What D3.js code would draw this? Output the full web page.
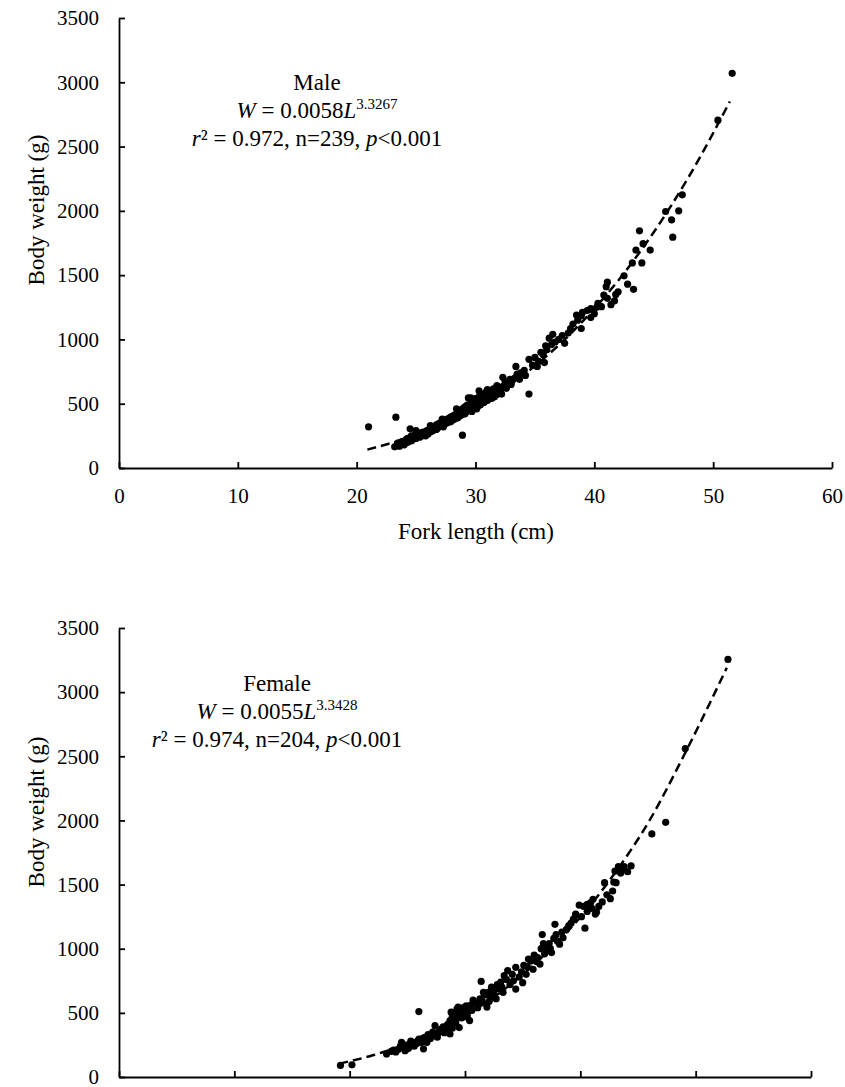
<!DOCTYPE html>
<html>
<head>
<meta charset="utf-8">
<script src="https://cdn.jsdelivr.net/npm/d3@7"></script>
<style>
  html, body { margin: 0; padding: 0; background: #fff; }
  svg { display: block; }
  svg text { font-family: "Liberation Serif", Tinos, "Times New Roman", Times, "DejaVu Serif", serif !important; fill: #000; }
</style>
</head>
<body>
<svg id="chart" width="845" height="1087"></svg>
<script>
// ---------------- DATA ----------------
const xTicks = [0, 10, 20, 30, 40, 50, 60];
const yTicks = [0, 500, 1000, 1500, 2000, 2500, 3000, 3500];
const xTitle = "Fork length (cm)";
const yTitle = "Body weight (g)";

const maleLabel = ["Male", "0.0058", "3.3267", "0.972", "239"];
const femaleLabel = ["Female", "0.0055", "3.3428", "0.974", "204"];

// male points [fork length cm, body weight g]
const malePoints = [
  [21.0,320],[23.3,395],[24.5,305],
  [23.2,165],[23.4,180],[23.5,195],[23.6,170],[23.8,205],[23.9,185],[24.0,210],[24.1,195],[24.2,225],[24.3,200],
  [24.4,215],[24.5,235],[24.6,210],[24.7,245],[24.8,225],[24.9,255],[25.0,230],[25.1,245],[25.2,270],[25.3,240],
  [25.4,260],[25.5,250],[25.6,280],[25.7,255],[25.8,270],[25.9,290],[26.0,265],[26.1,300],[26.2,280],[26.3,310],
  [26.4,290],[26.5,320],[26.6,300],[26.7,335],[26.8,310],[26.9,345],[27.0,325],[27.1,355],[27.2,330],[27.3,360],
  [27.4,340],[27.5,375],[27.6,350],[27.7,385],[27.8,360],[27.9,395],[28.0,370],[28.1,405],[28.2,380],[28.3,415],
  [28.4,390],[28.5,430],[28.6,400],[28.7,445],[28.8,410],[28.9,255],[28.9,460],[29.0,420],[29.1,475],[29.2,435],
  [29.3,490],[29.4,445],[29.4,545],[29.5,460],[29.6,500],[29.7,470],[29.8,520],[29.9,480],[30.0,540],[30.0,500],
  [30.1,460],[30.2,520],[30.3,555],[30.4,490],[30.5,530],[30.6,570],[30.7,510],[30.8,545],[30.9,590],[31.0,525],
  [31.1,560],[31.2,600],[31.3,540],[31.4,580],[31.5,615],[31.6,555],[31.7,600],[31.8,640],[31.9,575],[32.0,630],
  [32.1,600],[32.3,705],[32.4,640],[32.5,670],[32.7,655],[32.9,690],[33.1,680],[33.4,790],[33.5,730],[33.8,740],
  [34.1,760],[34.5,845],[34.5,575],[34.8,800],[35.0,860],[35.3,830],[35.5,900],[35.7,880],[35.9,950],[36.0,920],
  [36.2,1010],[36.5,1040],[36.7,980],[37.0,1000],[37.3,1030],[37.8,1050],[38.0,1085],[38.5,1190],[38.6,1150],
  [38.9,1185],[38.9,1085],[39.4,1225],[39.7,1240],[39.7,1170],[40.2,1250],[40.6,1255],[40.8,1345],[41.0,1410],
  [41.1,1445],[41.1,1320],[41.4,1270],[41.7,1300],[42.0,1370],[42.5,1495],[43.2,1595],[43.3,1390],[43.5,1695],
  [43.8,1845],[44.0,1595],[44.1,1745],[44.7,1695],[46.0,1995],[46.5,1930],[46.6,1795],[47.1,2000],[47.4,2125],
  [50.4,2705],[51.6,3070],
  [23.7,190],[24.0,180],[24.3,230],[24.6,250],[24.9,230],[25.2,250],[25.5,275],[25.8,250],[26.1,280],[26.4,320],
  [26.7,300],[27.0,340],[27.3,320],[27.6,370],[27.9,360],[28.2,400],[28.5,390],[28.8,430],[29.1,420],[29.4,470],
  [29.7,440],[29.9,510],[30.2,480],[30.5,510],[30.8,520],[31.1,575],[31.4,545],[31.7,570],[32.0,600],[32.2,575],
  [32.6,620],[33.0,650],[33.3,700],[33.7,690],[34.2,720],[35.2,790],[35.8,820],[36.4,960],[37.5,970],[38.2,1120],
  [39.0,1210],[40.0,1200],[40.3,1280],[41.8,1350],[42.8,1430],[30.3,600],[31.0,610],[29.6,545],[28.4,460],
  [27.2,380],[26.2,330],[25.0,290]
];

// female points [fork length cm, body weight g]
const femalePoints = [
  [19.2,90],[20.2,95],[23.2,180],[23.6,200],[24.0,195],[24.2,215],[24.5,270],[24.6,230],[24.8,205],[25.0,250],
  [25.1,225],[25.3,280],[25.5,270],[25.6,240],[25.8,260],[26.0,510],[26.0,295],[26.2,270],[26.4,220],[26.5,310],
  [26.6,285],[26.8,330],[26.9,320],[27.0,300],[27.2,350],[27.4,400],[27.5,330],[27.7,345],[27.8,370],[28.0,355],
  [28.1,390],[28.3,360],[28.5,410],[28.6,380],[28.7,335],[28.7,440],[28.8,505],[28.9,470],[29.0,420],[29.1,500],
  [29.2,455],[29.3,530],[29.4,480],[29.5,385],[29.6,510],[29.7,460],[29.8,540],[29.9,495],[30.0,520],[30.1,555],
  [30.2,480],[30.4,440],[30.5,560],[30.6,520],[30.8,575],[31.0,580],[31.1,540],[31.3,610],[31.4,745],[31.5,590],
  [31.7,640],[31.9,545],[32.0,660],[32.2,620],[32.3,700],[32.5,650],[32.7,610],[32.9,690],[33.1,740],[33.2,700],
  [33.4,790],[33.6,760],[33.9,720],[34.1,800],[34.4,855],[34.4,685],[34.7,780],[35.0,735],[35.1,870],[35.3,800],
  [35.5,920],[35.7,905],[36.0,950],[36.2,900],[36.5,880],[36.6,1000],[36.7,1110],[36.9,960],[37.1,995],[37.3,1040],
  [37.5,970],[37.8,1190],[37.9,1110],[38.0,1060],[38.2,1035],[38.5,1085],[38.8,1150],[39.2,1200],[39.6,1265],
  [39.6,1270],[39.9,1340],[40.1,1250],[40.4,1160],[40.6,1345],[40.6,1290],[41.0,1315],[41.1,1385],[41.3,1270],
  [41.4,1285],[41.9,1365],[42.1,1515],[42.6,1390],[42.8,1450],[43.0,1605],[43.1,1515],[43.3,1640],[43.5,1590],
  [43.8,1640],[44.4,1645],[46.2,1895],[47.4,1985],[49.1,2560],[52.8,3255],
  [23.8,210],[24.4,240],[24.9,215],[25.4,255],[25.9,280],[26.3,300],[26.7,270],[27.1,330],[27.6,310],[28.2,345],
  [28.4,395],[28.9,380],[29.2,420],[29.4,545],[29.7,500],[30.0,470],[30.3,530],[30.7,600],[31.2,570],[31.6,660],
  [32.1,590],[32.4,670],[32.8,720],[33.3,660],[33.7,830],[34.2,750],[34.9,820],[35.4,860],[35.9,840],[36.3,930],
  [36.8,1040],[37.4,1000],[37.7,1080],[38.4,1130],[39.0,1180],[39.4,1230],[40.3,1330],[40.9,1360],[41.6,1330],
  [42.3,1420],[42.9,1520],[43.6,1620],[44.1,1600]
];

// fitted power curves [cm, g]
const maleFit = [[20.9,143],[24,226],[27,335],[30,476],[33,654],[36,872],[39,1139],[42,1457],[45,1834],[48,2273],[51.4,2850]];
const femaleFit = [[19.1,104],[22,169],[25,259],[28,379],[31,532],[34,724],[37,961],[40,1246],[43,1590],[46,2000],[49,2510],[52.7,3190]];

// ---------------- DRAW ----------------
const svg = d3.select("#chart");
const SERIF = '"Liberation Serif", Tinos, "Times New Roman", Times, "DejaVu Serif", serif';
const FONT_TICK = 21, FONT_TITLE = 23, FONT_NOTE = 23, FONT_SUP = 15;

function panel(cfg) {
  const x = d3.scaleLinear().domain([0, 60]).range([cfg.left, cfg.right]);
  const y = d3.scaleLinear().domain([0, 3500]).range([cfg.bottom, cfg.top]);
  const g = svg.append("g").attr("font-family", SERIF);

  // x axis
  const xa = g.append("g")
    .attr("transform", `translate(0,${cfg.bottom})`)
    .call(d3.axisBottom(x).tickValues(xTicks).tickSize(-6).tickSizeOuter(0).tickPadding(20)
      .tickFormat(cfg.xLabels ? d3.format("d") : () => ""));
  // y axis
  const ya = g.append("g")
    .attr("transform", `translate(${cfg.left},0)`)
    .call(d3.axisLeft(y).tickValues(yTicks).tickSize(-6).tickSizeOuter(0).tickPadding(20).tickFormat(d3.format("d")));
  [xa, ya].forEach(a => {
    a.attr("font-family", SERIF).attr("font-size", FONT_TICK);
    a.select(".domain").attr("stroke", "#000").attr("stroke-width", 1.8);
    a.selectAll(".tick line").attr("stroke", "#000").attr("stroke-width", 1.8);
    a.selectAll(".tick text").attr("fill", "#000");
  });

  // titles
  if (cfg.xLabels) {
    g.append("text").attr("x", cfg.xTitleX).attr("y", cfg.xTitleY)
      .attr("text-anchor", "middle").attr("font-size", FONT_TITLE).text(xTitle);
  }
  g.append("text")
    .attr("transform", `translate(${cfg.yTitleX},${cfg.yTitleY}) rotate(-90)`)
    .attr("text-anchor", "middle").attr("font-size", FONT_TITLE).text(yTitle);

  // fit line
  const line = d3.line().x(d => x(d[0])).y(d => y(d[1])).curve(d3.curveMonotoneX);
  g.append("path").datum(cfg.fit).attr("d", line)
    .attr("fill", "none").attr("stroke", "#000").attr("stroke-width", 2.5)
    .attr("stroke-dasharray", "9,5");

  // points
  g.append("g").selectAll("circle").data(cfg.points).join("circle")
    .attr("cx", d => x(d[0])).attr("cy", d => y(d[1])).attr("r", 3.6).attr("fill", "#000");

  // annotation
  const lab = cfg.label;
  g.append("text").attr("x", cfg.noteX).attr("y", cfg.noteY).attr("text-anchor", "middle")
    .attr("font-size", FONT_NOTE).text(lab[0]);
  const t2 = g.append("text").attr("x", cfg.noteX).attr("y", cfg.noteY + 28).attr("text-anchor", "middle")
    .attr("font-size", FONT_NOTE);
  t2.append("tspan").attr("font-style", "italic").text("W");
  t2.append("tspan").text(" = " + lab[1]);
  t2.append("tspan").attr("font-style", "italic").text("L");
  t2.append("tspan").attr("dy", -9).attr("font-size", FONT_SUP).text(lab[2]);
  const t3 = g.append("text").attr("x", cfg.noteX).attr("y", cfg.noteY + 56).attr("text-anchor", "middle")
    .attr("font-size", FONT_NOTE);
  t3.append("tspan").attr("font-style", "italic").text("r");
  t3.append("tspan").text("\u00B2 = " + lab[3] + ", n=" + lab[4] + ", ");
  t3.append("tspan").attr("font-style", "italic").text("p");
  t3.append("tspan").text("<0.001");
}

panel({
  left: 119, right: 832, top: 18, bottom: 468, xLabels: true,
  xTitleX: 476, xTitleY: 539, yTitleX: 44, yTitleY: 210,
  points: malePoints, fit: maleFit, label: maleLabel, noteX: 317, noteY: 90
});
panel({
  left: 119, right: 811, top: 628, bottom: 1077, xLabels: false,
  yTitleX: 44, yTitleY: 812,
  points: femalePoints, fit: femaleFit, label: femaleLabel, noteX: 277, noteY: 691
});
</script>
</body>
</html>
